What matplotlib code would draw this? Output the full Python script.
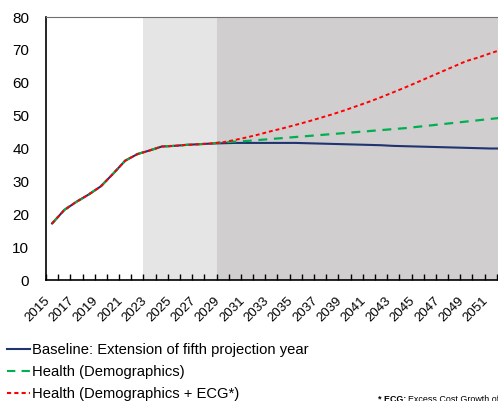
import numpy as np
import matplotlib.pyplot as plt
from matplotlib.lines import Line2D

years = list(range(2015, 2053))
history = [17.2, 21.3, 23.8, 26.0, 28.5, 32.3, 36.3, 38.3, 39.4, 40.6,
           40.8, 41.1, 41.3, 41.5]
baseline_proj = [41.6, 41.7, 41.7, 41.7, 41.7, 41.7, 41.7, 41.6, 41.5, 41.4,
                 41.3, 41.2, 41.1, 41.0, 40.8, 40.7, 40.6, 40.5, 40.4, 40.3,
                 40.2, 40.1, 40.0, 40.0]
demo_proj = [41.9, 42.1, 42.3, 42.6, 42.9, 43.2, 43.5, 43.8, 44.1, 44.4,
             44.7, 45.0, 45.3, 45.6, 45.9, 46.2, 46.6, 47.0, 47.4, 47.8,
             48.2, 48.6, 49.0, 49.4]
ecg_proj = [41.9, 42.6, 43.4, 44.3, 45.3, 46.2, 47.2, 48.2, 49.3, 50.4,
            51.6, 52.9, 54.2, 55.6, 57.1, 58.6, 60.2, 61.8, 63.4, 65.0,
            66.6, 67.7, 69.0, 70.2]

baseline = history + baseline_proj
demo = history + demo_proj
ecg = history + ecg_proj

labels = ["Baseline: Extension of fifth projection year",
          "Health (Demographics)",
          "Health (Demographics + ECG*)"]
c_base = "#1f3470"
c_demo = "#00b050"
c_ecg = "#ff0000"

plt.rcParams['font.family'] = ['Liberation Sans', 'DejaVu Sans']

fig = plt.figure(figsize=(4.98, 4.01), dpi=100)
ax = fig.add_axes([0.0924, 0.3017, 0.9076, 0.6559])

ax.axvspan(2022.5, 2028.5, color="#e5e5e5", lw=0, zorder=0)
ax.axvspan(2028.5, 2060, color="#d0cece", lw=0, zorder=0)

ax.plot(years, baseline, color=c_base, lw=1.5, zorder=3)
ax.plot(years, demo, color=c_demo, lw=1.6, ls=(0, (4, 3)), zorder=4)
ax.plot(years, ecg, color=c_ecg, lw=1.4, ls=(0, (2, 1.5)), zorder=5)

ax.set_xlim(2014.5, 2051.6)
ax.set_ylim(0, 80)
ax.set_yticks(range(0, 81, 10))
ax.tick_params(axis='y', length=0, pad=12, labelsize=11)

ax.set_xticks(np.arange(2014.5, 2052, 1), minor=True)
ax.set_xticks(range(2015, 2052, 2))
ax.set_xticklabels([str(y) for y in range(2015, 2052, 2)], rotation=45,
                   ha='right', va='top', fontsize=9.5)
ax.tick_params(axis='x', which='major', length=0, pad=10.5)
ax.tick_params(axis='x', which='minor', direction='in', length=4, width=1,
               color='black')

ax.spines['right'].set_visible(False)
ax.spines['top'].set_color('#707070')
ax.spines['left'].set_linewidth(1.2)
ax.spines['bottom'].set_linewidth(1.2)

handles = [Line2D([], [], color=c_base, lw=1.5),
           Line2D([], [], color=c_demo, lw=1.5, ls=(0, (4, 3))),
           Line2D([], [], color=c_ecg, lw=1.5, ls=(0, (2, 1.5)))]
fig.legend(handles, labels, loc='upper left', bbox_to_anchor=(0.014, 0.144),
           frameon=False, fontsize=10.6, handlelength=1.55, handletextpad=0.15,
           labelspacing=0.55, borderaxespad=0, borderpad=0)

# footnote, partly cut by the figure edge as in the original
t1 = fig.text(0.759, 0.016, "* ECG:", fontsize=6.4, fontweight='bold',
              va='top', ha='left')
fig.canvas.draw()
bb = t1.get_window_extent()
fig.text(bb.x1 / fig.bbox.width + 0.004, 0.016, "Excess Cost Growth of",
         fontsize=6.4, va='top', ha='left')

fig.savefig("out.png", dpi=100)
